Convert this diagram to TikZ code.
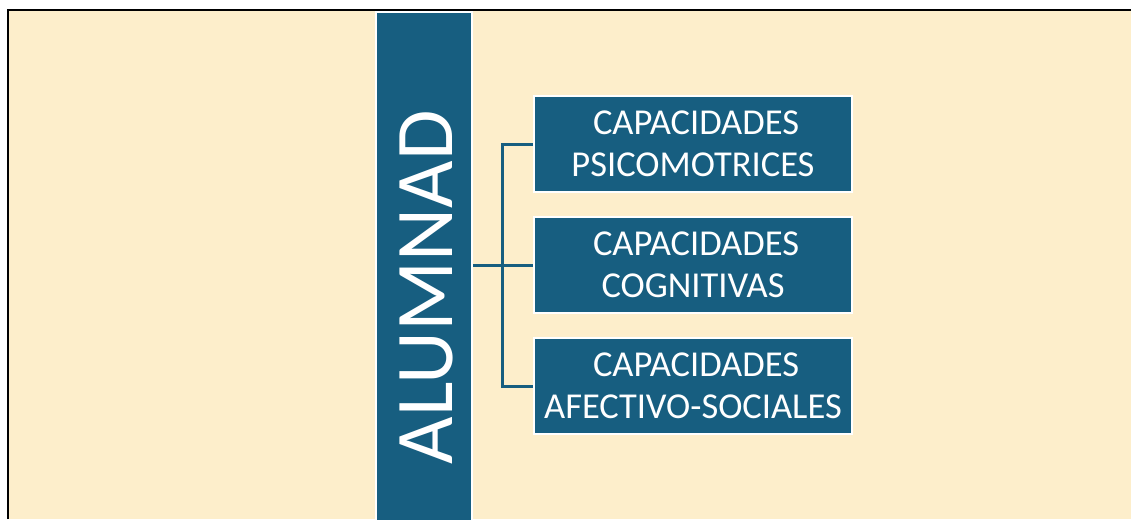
\documentclass[tikz,border=0pt]{standalone}
\usepackage{fontspec}
\setmainfont{Carlito}
\definecolor{cream}{RGB}{253,238,203}
\definecolor{navy}{RGB}{23,94,128}
\begin{document}
\begin{tikzpicture}[x=1pt,y=-1pt,
  capbox/.style={rectangle, fill=navy, draw=white, line width=2.5pt, minimum width=318pt, minimum height=96pt, inner sep=0pt, align=center, text=white, font=\fontsize{36.5}{41.5}\selectfont},
  conn/.style={draw=navy, line width=3pt}]
\useasboundingbox (0,0) rectangle (1131,519);
\fill[white] (0,0) rectangle (1131,519);
\fill[cream] (8,10) rectangle (1131,519);
\draw[black, line width=2.4pt] (8,519) -- (8,10.2) -- (1131,10.2);
% vertical bar
\node (bar) [rectangle, fill=navy, draw=white, line width=2pt, minimum width=96pt, minimum height=515pt, inner sep=0pt, anchor=north] at (424,11.5) {};
\node (title) [rotate=90, text=white, inner sep=0pt, font=\fontsize{82}{96}\selectfont] at (426,287.5) {ALUMNAD};
% boxes
\node (b1) [capbox] at (693,144) {\hspace*{6pt}CAPACIDADES\\PSICOMOTRICES};
\node (b2) [capbox] at (693,265) {\hspace*{6pt}CAPACIDADES\\COGNITIVAS};
\node (b3) [capbox] at (693,386) {\hspace*{6pt}CAPACIDADES\\AFECTIVO-SOCIALES};
% connectors
\coordinate (j) at (502.5,265);
\draw[conn] (bar.east |- j) -- (b2.west);
\draw[conn] (b1.west) -| (j) |- (b3.west);
\end{tikzpicture}
\end{document}
